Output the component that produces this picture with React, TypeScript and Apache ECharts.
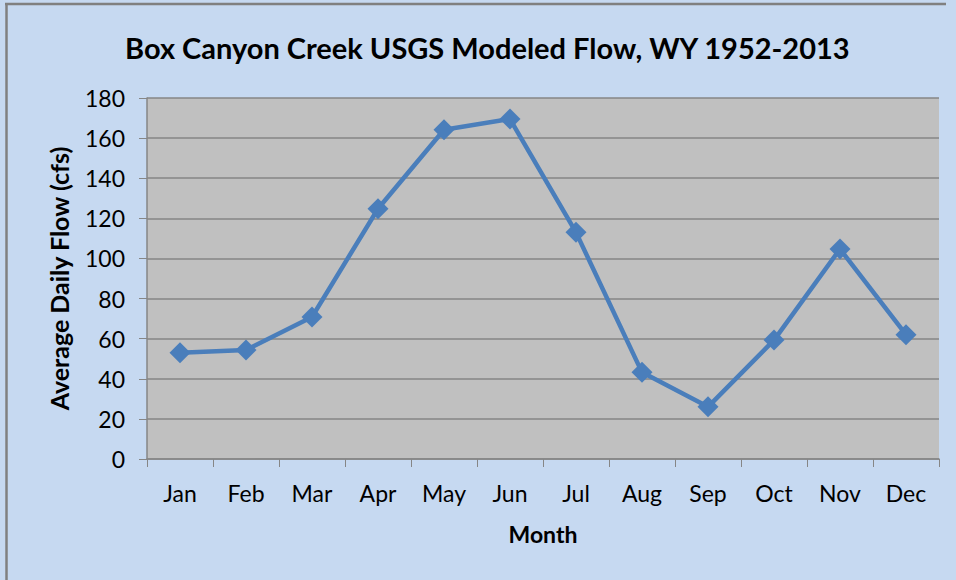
import React, { useEffect, useRef } from "react";
import * as echarts from "echarts";

const months = ["Jan", "Feb", "Mar", "Apr", "May", "Jun", "Jul", "Aug", "Sep", "Oct", "Nov", "Dec"];
const flow = [53, 54.3, 70.8, 124.8, 164.2, 169.5, 113, 43.2, 26, 59.3, 104.7, 62];
const titleText = "Box Canyon Creek USGS Modeled Flow, WY 1952-2013";
const yAxisName = "Average Daily Flow (cfs)";
const xAxisName = "Month";

const FONT = "Lato";

export default function App() {
  const ref = useRef<HTMLDivElement>(null);
  useEffect(() => {
    const chart = echarts.init(ref.current!, null, { renderer: "svg" });
    chart.setOption({
      animation: false,
      backgroundColor: "#c6d9f1",
      title: {
        text: titleText,
        left: 120,
        top: 28,
        textStyle: { fontFamily: FONT, fontWeight: "bold", fontSize: 29, color: "#000" },
      },
      grid: { left: 147, right: 17, top: 98, bottom: 121, backgroundColor: "#c0c0c0", show: true, borderWidth: 0 },
      xAxis: {
        type: "category",
        data: months,
        boundaryGap: true,
        name: xAxisName,
        nameLocation: "middle",
        nameGap: 63,
        nameTextStyle: { fontFamily: FONT, fontWeight: "bold", fontSize: 23, color: "#000" },
        axisLine: { lineStyle: { color: "#868686", width: 1.5 } },
        axisTick: { show: true, length: 8, lineStyle: { color: "#868686" } },
        axisLabel: { fontFamily: FONT, fontSize: 23, color: "#000", margin: 22 },
      },
      yAxis: {
        type: "value",
        min: 0,
        max: 180,
        interval: 20,
        name: yAxisName,
        nameLocation: "middle",
        nameGap: 76,
        nameTextStyle: { fontFamily: FONT, fontWeight: "bold", fontSize: 25, color: "#000" },
        axisLine: { show: true, lineStyle: { color: "#868686", width: 1.5 } },
        axisTick: { show: true, length: 8, lineStyle: { color: "#868686" } },
        axisLabel: { fontFamily: FONT, fontSize: 23, color: "#000", margin: 22 },
        splitLine: { show: true, lineStyle: { color: "#868686", width: 1.5 } },
      },
      series: [
        {
          type: "line",
          data: flow,
          symbol: "diamond",
          symbolSize: 21,
          lineStyle: { color: "#4a7ebb", width: 4.5 },
          itemStyle: { color: "#4a7ebb" },
        },
      ],
      graphic: [
        {
          type: "line",
          shape: { x1: 5, y1: 4, x2: 946, y2: 4 },
          style: { stroke: "#808080", lineWidth: 2.5 },
          silent: true,
        },
        {
          type: "line",
          shape: { x1: 6.5, y1: 3, x2: 6.5, y2: 580 },
          style: { stroke: "#808080", lineWidth: 2.5 },
          silent: true,
        },
      ],
    });
    return () => chart.dispose();
  }, []);
  return <div ref={ref} style={{ width: 956, height: 580, position: "absolute", left: 0, top: 0 }} />;
}
